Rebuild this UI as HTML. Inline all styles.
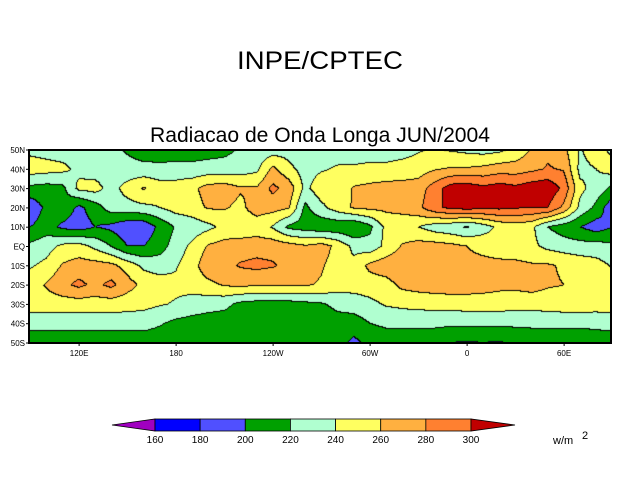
<!DOCTYPE html>
<html><head><meta charset="utf-8">
<style>
html,body{margin:0;padding:0;background:#fff;width:640px;height:494px;overflow:hidden}
#wrap{position:relative;width:640px;height:494px}
canvas{position:absolute;left:29px;top:150px}
svg{position:absolute;left:0;top:0}
text{font-family:"Liberation Sans",sans-serif}
</style></head><body>
<div id="wrap">
<canvas id="map" width="582" height="193"></canvas>
<svg id="ov" width="640" height="494">
<text x="320" y="69" text-anchor="middle" font-size="25" textLength="166" lengthAdjust="spacingAndGlyphs">INPE/CPTEC</text>
<text x="320" y="142" text-anchor="middle" font-size="21" textLength="340" lengthAdjust="spacingAndGlyphs">Radiacao de Onda Longa JUN/2004</text>
<rect x="29" y="150" width="582" height="193" fill="none" stroke="#000" stroke-width="2"/>
<g id="axes"></g>
<g id="cbar"></g>
<text x="553" y="444" font-size="11">w/m</text>
<text x="582" y="439" font-size="11">2</text>
</svg>
</div>
<script>
const lats=[50,40,30,20,10,0,-10,-20,-30,-40,-50];
const lons=[90,100,110,120,130,140,150,160,170,180,190,200,210,220,230,240,250,260,270,280,290,300,310,320,330,340,350,360,370,380,390,400,410,420,430,440,450];
const r50N=[235,232,230,230,228,225,218,212,210,210,210,212,215,222,228,230,232,232,230,232,232,230,230,232,238,242,238,235,232,235,245,262,275,265,238,250,235];
const r40N=[250,248,245,235,230,228,226,225,225,226,226,228,228,230,235,265,245,232,238,242,242,245,245,248,250,258,262,262,265,270,270,275,282,278,235,240,250];
const r30N=[215,212,215,245,248,232,248,262,250,250,255,268,270,262,262,285,272,235,252,245,262,265,268,268,270,290,310,312,305,310,305,312,315,295,245,232,215];
const r20N=[185,205,215,195,210,230,232,235,240,248,252,262,262,255,270,268,262,215,235,250,262,265,265,268,275,295,305,308,305,305,302,300,300,275,235,215,185];
const r10N=[200,210,195,190,200,195,185,185,205,222,228,235,245,245,248,238,215,210,205,205,200,215,245,245,240,230,225,218,230,245,250,245,220,210,200,190,200];
const rEQ=[225,232,245,248,235,220,200,200,212,228,245,262,268,270,272,272,268,262,268,255,235,228,245,262,268,268,265,260,255,250,248,245,235,230,228,228,225];
const r10S=[238,245,262,268,268,265,252,235,230,238,252,272,275,282,285,282,275,268,262,252,245,265,272,275,270,268,268,265,265,265,265,262,262,258,252,248,238];
const r20S=[250,262,275,285,275,285,268,255,250,245,248,255,262,265,262,262,262,262,258,250,248,250,252,265,268,270,272,270,268,265,265,268,262,260,258,255,250];
const r30S=[250,250,250,250,250,250,248,246,242,238,232,228,225,215,212,212,212,215,218,225,230,235,242,245,247,248,248,250,250,250,248,248,250,252,252,250,250];
const r40S=[228,228,228,228,228,228,228,228,222,215,212,210,210,208,208,208,208,208,208,212,210,220,224,224,224,224,224,224,224,224,224,224,224,224,224,226,228];
const r50S=[208,208,208,208,208,208,208,208,208,208,208,208,208,208,208,208,208,208,208,208,195,205,208,208,208,208,200,198,200,198,205,208,208,208,208,208,208];
const grid=[r50N,r40N,r30N,r20N,r10N,rEQ,r10S,r20S,r30S,r40S,r50S];
const levels=[160,180,200,220,240,260,280,300];
const levelColors=["#a000c0","#0000ff","#5050ff","#00a000","#b0ffd0","#ffff60","#ffb040","#ff8030","#c00000"];
const latTicks=["50N","40N","30N","20N","10N","EQ","10S","20S","30S","40S","50S"];
const lonTickVals=[120,180,240,300,360,420];
const lonTickLabels=["120E","180","120W","60W","0","60E"];

const X0=29,Y0=150,W=582,H=193,LON0=89,LON1=449;
function xOf(lon){return X0+(lon-LON0)/(LON1-LON0)*W;}
function yOf(lat){return Y0+(50-lat)/100*H;}
function lvl(v){let i=0;while(i<levels.length&&v>=levels[i])i++;return i;}
function sample(lon,lat){
  let fx=(lon-lons[0])/10, fy=(50-lat)/10;
  fx=Math.max(0,Math.min(lons.length-1.0001,fx));fy=Math.max(0,Math.min(lats.length-1.0001,fy));
  const i=Math.floor(fx),j=Math.floor(fy),tx=fx-i,ty=fy-j;
  const a=grid[j][i],b=grid[j][i+1],c=grid[j+1][i],d=grid[j+1][i+1];
  return a*(1-tx)*(1-ty)+b*tx*(1-ty)+c*(1-tx)*ty+d*tx*ty;
}
const cv=document.getElementById('map'),ctx=cv.getContext('2d');
const img=ctx.createImageData(W,H);
const L=new Array(W*H);
for(let py=0;py<H;py++)for(let px=0;px<W;px++){
  const lon=LON0+(px+0.5)/W*(LON1-LON0),lat=50-(py+0.5)/H*100;
  L[py*W+px]=lvl(sample(lon,lat));
}
function hex(h){return [parseInt(h.substr(1,2),16),parseInt(h.substr(3,2),16),parseInt(h.substr(5,2),16)];}
const rgb=levelColors.map(hex);
for(let py=0;py<H;py++)for(let px=0;px<W;px++){
  const k=py*W+px,l=L[k];let c=rgb[l];
  if((px+1<W&&L[k+1]!==l)||(py+1<H&&L[k+W]!==l))c=[0,0,0];
  img.data[k*4]=c[0];img.data[k*4+1]=c[1];img.data[k*4+2]=c[2];img.data[k*4+3]=255;
}
ctx.putImageData(img,0,0);

const NS="http://www.w3.org/2000/svg";
const ax=document.getElementById('axes');
function mk(tag,attrs,parent){const e=document.createElementNS(NS,tag);for(const k in attrs)e.setAttribute(k,attrs[k]);parent.appendChild(e);return e;}
lats.forEach((lat,i)=>{
  const t=mk('text',{x:25,y:yOf(lat)+3,'text-anchor':'end','font-size':8},ax);
  
  
  t.textContent=latTicks[i];
  const tk=mk('line',{x1:26,x2:29,y1:yOf(lat),y2:yOf(lat),stroke:'#000'},ax);
  
  
});
lonTickVals.forEach((lon,i)=>{
  const t=mk('text',{x:xOf(lon),y:356,'text-anchor':'middle','font-size':8},ax);
  
  
  t.textContent=lonTickLabels[i];
  const tk=mk('line',{x1:xOf(lon),x2:xOf(lon),y1:343,y2:346,stroke:'#000'},ax);
  
  
});
const cb=document.getElementById('cbar');
const CB0=155,CB1=471,CBY=419,CBH=12;
function cbx(v){return CB0+(v-levels[0])/(levels[levels.length-1]-levels[0])*(CB1-CB0);}
const lt=mk('polygon',{points:`112,${CBY+CBH/2} ${CB0},${CBY} ${CB0},${CBY+CBH}`,fill:levelColors[0],stroke:'#000','stroke-width':0.8},cb);


for(let i=0;i<levels.length-1;i++){
  const r=mk('rect',{x:cbx(levels[i]),y:CBY,width:cbx(levels[i+1])-cbx(levels[i]),height:CBH,fill:levelColors[i+1],stroke:'#000','stroke-width':0.8},cb);
  
  
}
const rt=mk('polygon',{points:`515,${CBY+CBH/2} ${CB1},${CBY} ${CB1},${CBY+CBH}`,fill:levelColors[levelColors.length-1],stroke:'#000','stroke-width':0.8},cb);


levels.forEach(v=>{
  const t=mk('text',{x:cbx(v),y:443,'text-anchor':'middle','font-size':10},cb);
  
  
  t.textContent=v;
});
</script>
</body></html>
